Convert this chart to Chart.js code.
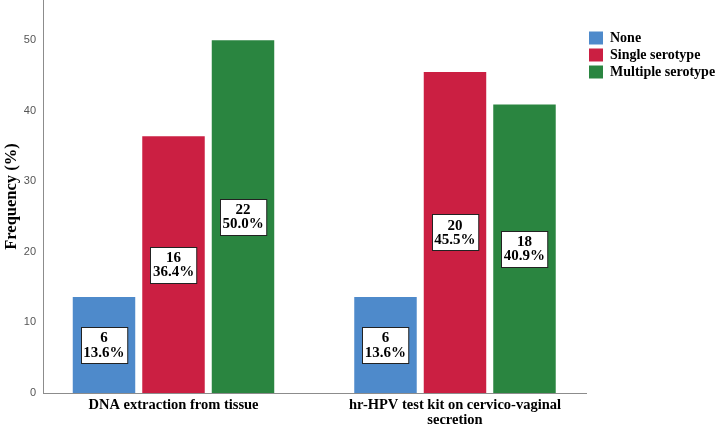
<!DOCTYPE html>
<html>
<head>
<meta charset="utf-8">
<script src="https://cdn.jsdelivr.net/npm/chart.js@4.4.1/dist/chart.umd.min.js"></script>
<style>
  html, body { margin: 0; padding: 0; background: #ffffff; }
  #wrap { width: 717px; height: 428px; position: relative; }
</style>
</head>
<body>
<div id="wrap"><canvas id="c"></canvas></div>
<script>
// ---- data ----
const categories = ["DNA extraction from tissue", ["hr-HPV test kit on cervico-vaginal", "secretion"]];
const seriesNames = ["None", "Single serotype", "Multiple serotype"];
const noneCounts = [6, 6];
const singleCounts = [16, 20];
const multipleCounts = [22, 18];
const nonePct = [13.6, 13.6];
const singlePct = [36.4, 45.5];
const multiplePct = [50.0, 40.9];
const yTicks = [0, 10, 20, 30, 40, 50];

const colors = ["#4E8ACB", "#CB1F42", "#2A8540"];
const counts = [noneCounts, singleCounts, multipleCounts];
const pcts = [nonePct, singlePct, multiplePct];

const datasets = seriesNames.map((name, i) => ({
  label: name,
  data: pcts[i].map((v, j) => ({ x: j, y: v })),
  counts: counts[i],
  backgroundColor: colors[i],
  borderWidth: 0,
  categoryPercentage: 0.7407,
  barPercentage: 0.899
}));

const serif = "'Liberation Serif', 'Times New Roman', serif";

const boxLabels = {
  id: 'boxLabels',
  afterDatasetsDraw(chart) {
    const ctx = chart.ctx;
    ctx.save();
    ctx.font = "bold 15px " + serif;
    ctx.textAlign = 'center';
    ctx.textBaseline = 'middle';
    chart.data.datasets.forEach((ds, di) => {
      const meta = chart.getDatasetMeta(di);
      meta.data.forEach((el, i) => {
        const cx = el.x;
        const cy = (el.y + el.base) / 2;
        const l1 = String(ds.counts[i]);
        const l2 = ds.data[i].y.toFixed(1) + '%';
        const w = Math.max(ctx.measureText(l1).width, ctx.measureText(l2).width) + 5;
        const lh = 14.5;
        const h = 2 * lh + 7;
        const bx = Math.round(cx - w / 2) + 0.5;
        const by = Math.round(cy - h / 2) + 0.5;
        ctx.fillStyle = '#ffffff';
        ctx.fillRect(bx, by, w, h);
        ctx.strokeStyle = '#222222';
        ctx.lineWidth = 1;
        ctx.strokeRect(bx, by, w, h);
        ctx.fillStyle = '#000000';
        ctx.fillText(l1, cx, cy - lh / 2 + 0.5);
        ctx.fillText(l2, cx, cy + lh / 2 + 0.5);
      });
    });
    ctx.restore();
  }
};

new Chart(document.getElementById('c'), {
  type: 'bar',
  data: { datasets },
  plugins: [boxLabels],
  options: {
    responsive: true,
    maintainAspectRatio: false,
    animation: false,
    layout: { padding: { top: 0, right: 0, bottom: 0, left: 0 } },
    plugins: {
      tooltip: { enabled: false },
      legend: {
        position: 'right',
        align: 'start',
        maxWidth: 131,
        title: { display: true, text: ' ', font: { size: 10, lineHeight: 1 }, padding: { top: 18, bottom: 0 } },
        labels: {
          boxWidth: 14,
          boxHeight: 13,
          padding: 3,
          color: '#000000',
          font: { family: serif, size: 14, weight: 'bold' }
        }
      }
    },
    scales: {
      x: {
        type: 'linear',
        min: -0.4636,
        max: 1.4654,
        offset: false,
        grid: { display: false, drawTicks: false },
        border: { display: true, color: '#8c8c8c', width: 1 },
        ticks: {
          stepSize: 1,
          includeBounds: false,
          autoSkip: false,
          maxRotation: 0,
          padding: 5,
          color: '#000000',
          font: { family: serif, size: 14.5, weight: 'bold', lineHeight: 1.0 },
          callback: (v) => categories[v]
        },
        afterFit: (s) => { s.height = 35; s.paddingLeft = 0; s.paddingRight = 0; }
      },
      y: {
        min: 0,
        max: 55.7,
        grid: { display: false, drawTicks: false },
        border: { display: true, color: '#8c8c8c', width: 1 },
        afterBuildTicks: (s) => { s.ticks = yTicks.map(v => ({ value: v })); },
        ticks: {
          includeBounds: false,
          padding: 7,
          color: '#555555',
          font: { family: "'Liberation Sans', Arial, sans-serif", size: 11 }
        },
        title: {
          display: true,
          text: 'Frequency (%)',
          color: '#000000',
          font: { family: serif, size: 16.5, weight: 'bold', lineHeight: 1.2 },
          padding: { top: 2, bottom: 0 }
        },
        afterFit: (s) => { s.width = 43; s.paddingTop = 0; s.paddingBottom = 0; }
      }
    }
  }
});
</script>
</body>
</html>
